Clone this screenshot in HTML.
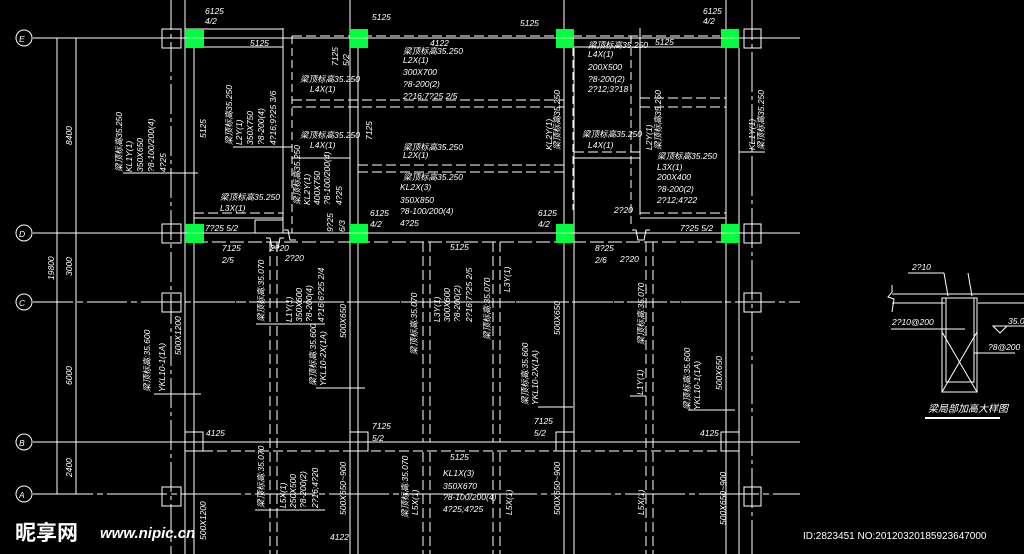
<!DOCTYPE html>
<html><head><meta charset="utf-8"><style>
html,body{margin:0;padding:0;background:#000;width:1024px;height:554px;overflow:hidden}
svg{display:block}
text{font-family:"Liberation Sans","Noto Sans CJK SC",sans-serif;fill:#fff;font-size:8.5px;font-style:italic}
</style></head><body>
<svg width="1024" height="554" viewBox="0 0 1024 554" xmlns="http://www.w3.org/2000/svg">
<g stroke="#fff" stroke-width="1" fill="none">
<circle cx="24" cy="38" r="8"/><circle cx="24" cy="233" r="8"/><circle cx="24" cy="302" r="8"/><circle cx="24" cy="442" r="8"/><circle cx="24" cy="494" r="8"/>
<line x1="33" y1="38" x2="800" y2="38"/>
<line x1="33" y1="233" x2="800" y2="233"/>
<line x1="33" y1="302" x2="800" y2="302" stroke-dasharray="40 4 6 4"/>
<line x1="33" y1="442" x2="800" y2="442"/>
<line x1="33" y1="494" x2="800" y2="494" stroke-dasharray="60 4 6 4"/>
<line x1="57" y1="38" x2="57" y2="494"/><line x1="76" y1="38" x2="76" y2="494"/>
<rect x="162" y="29" width="19" height="19"/><rect x="162" y="224" width="19" height="19"/>
<rect x="162" y="293" width="19" height="19"/><rect x="162" y="487" width="19" height="19"/>
<rect x="744" y="29" width="17" height="19"/><rect x="744" y="224" width="17" height="19"/>
<rect x="744" y="293" width="17" height="19"/><rect x="744" y="487" width="17" height="19"/>
<rect x="185" y="432" width="18" height="19"/><rect x="350" y="432" width="18" height="19"/>
<rect x="556" y="432" width="18" height="19"/><rect x="721" y="432" width="18" height="19"/>
<line x1="171" y1="0" x2="171" y2="554" stroke-dasharray="30 4 4 4"/>
<line x1="185" y1="0" x2="185" y2="554"/><line x1="194" y1="48" x2="194" y2="554"/>
<line x1="350" y1="0" x2="350" y2="554"/><line x1="358" y1="48" x2="358" y2="554"/>
<line x1="564" y1="0" x2="564" y2="554"/><line x1="574" y1="48" x2="574" y2="554"/>
<line x1="726" y1="0" x2="726" y2="554"/><line x1="739" y1="48" x2="739" y2="554"/>
<line x1="752" y1="0" x2="752" y2="554" stroke-dasharray="40 4 4 4"/>
<line x1="283" y1="28" x2="283" y2="233"/><line x1="640" y1="28" x2="640" y2="215"/>
<line x1="292" y1="36" x2="292" y2="233" stroke-dasharray="8 4"/>
<line x1="573" y1="36" x2="573" y2="210" stroke-dasharray="8 4"/>
<line x1="631" y1="36" x2="631" y2="225" stroke-dasharray="8 4"/>
<line x1="185" y1="29" x2="283" y2="29"/><line x1="194" y1="47" x2="283" y2="47"/>
<line x1="292" y1="36" x2="720" y2="36" stroke-dasharray="10 4"/>
<line x1="574" y1="47" x2="726" y2="47"/>
<line x1="292" y1="100" x2="564" y2="100" stroke-dasharray="10 4"/><line x1="292" y1="107" x2="564" y2="107" stroke-dasharray="10 4"/>
<line x1="292" y1="158" x2="350" y2="158"/><line x1="358" y1="165" x2="564" y2="165" stroke-dasharray="10 4"/>
<line x1="358" y1="172" x2="564" y2="172" stroke-dasharray="10 4"/>
<line x1="574" y1="152" x2="640" y2="152" stroke-dasharray="10 4"/><line x1="574" y1="158" x2="640" y2="158"/>
<line x1="640" y1="98" x2="726" y2="98" stroke-dasharray="10 4"/><line x1="640" y1="107" x2="726" y2="107" stroke-dasharray="10 4"/>
<line x1="194" y1="213" x2="283" y2="213" stroke-dasharray="10 4"/><line x1="194" y1="218" x2="283" y2="218"/>
<line x1="640" y1="213" x2="726" y2="213" stroke-dasharray="10 4"/><line x1="640" y1="218" x2="726" y2="218"/>
<line x1="194" y1="242" x2="726" y2="242" stroke-dasharray="14 4"/>
<line x1="255" y1="220" x2="255" y2="233"/><line x1="255" y1="220" x2="283" y2="220"/>
<path d="M266 238 L270 238 L272 248 L278 248 L280 238 L284 238 M284 230 L288 230 L290 240 L296 240"/>
<path d="M632 230 L636 230 L638 240 L644 240 L646 230 L650 230"/>
<g stroke-dasharray="10 4">
<line x1="270" y1="242" x2="270" y2="554"/><line x1="277" y1="242" x2="277" y2="554"/>
<line x1="423" y1="242" x2="423" y2="442"/><line x1="430" y1="242" x2="430" y2="442"/>
<line x1="493" y1="242" x2="493" y2="442"/><line x1="500" y1="242" x2="500" y2="442"/>
<line x1="646" y1="242" x2="646" y2="554"/><line x1="653" y1="242" x2="653" y2="554"/>
<line x1="423" y1="452" x2="423" y2="554"/><line x1="430" y1="452" x2="430" y2="554"/>
<line x1="493" y1="452" x2="493" y2="554"/><line x1="500" y1="452" x2="500" y2="554"/>
<line x1="203" y1="442" x2="721" y2="442"/><line x1="203" y1="451" x2="721" y2="451"/>
<line x1="194" y1="302" x2="726" y2="302"/>
</g>
<line x1="123" y1="173" x2="198" y2="173"/><line x1="233" y1="147" x2="292" y2="147"/>
<line x1="154" y1="394" x2="201" y2="394"/><line x1="256" y1="324" x2="325" y2="324"/>
<line x1="316" y1="388" x2="365" y2="388"/><line x1="255" y1="510" x2="325" y2="510"/>
<line x1="538" y1="407" x2="573" y2="407"/><line x1="630" y1="396" x2="646" y2="396"/>
<line x1="688" y1="410" x2="735" y2="410"/><line x1="739" y1="152" x2="765" y2="152"/>
<line x1="892" y1="294" x2="1024" y2="294"/><line x1="892" y1="303" x2="945" y2="303"/><line x1="978" y1="303" x2="1024" y2="303"/>
<path d="M892 285 L892 292 L888 297 L894 299 L892 312"/>
<rect x="942" y="298" width="35" height="94"/>
<rect x="946" y="298" width="28" height="84"/>
<line x1="942" y1="332" x2="977" y2="392"/><line x1="977" y1="332" x2="942" y2="392"/>
<line x1="891" y1="329" x2="965" y2="329"/><line x1="974" y1="353" x2="1015" y2="353"/>
<line x1="908" y1="273" x2="944" y2="273"/><line x1="944" y1="273" x2="948" y2="296"/><line x1="968" y1="273" x2="972" y2="296"/>
<path d="M993 326 L1007 326 L1000 333 Z"/><line x1="1007" y1="326" x2="1024" y2="326"/>
</g>
<line x1="925" y1="418" x2="1000" y2="418" stroke="#fff" stroke-width="2"/>
<g fill="#00ff3c">
<rect x="185" y="29" width="19" height="19"/><rect x="350" y="29" width="18" height="19"/><rect x="556" y="29" width="18" height="19"/><rect x="721" y="29" width="18" height="19"/>
<rect x="185" y="224" width="19" height="19"/><rect x="350" y="224" width="18" height="19"/><rect x="556" y="224" width="18" height="19"/><rect x="721" y="224" width="18" height="19"/>
</g>
<g stroke="#fff" stroke-width="0.8"><line x1="185" y1="38" x2="740" y2="38"/><line x1="185" y1="233" x2="740" y2="233"/></g>
<g style="font-style:normal;font-size:10px;font-family:'Liberation Serif',serif">
<text x="19" y="42">E</text><text x="19" y="237">D</text><text x="19" y="306">C</text><text x="19" y="446">B</text><text x="19" y="498">A</text>
</g>
<text x="205" y="14">6125</text><text x="205" y="24">4/2</text>
<text x="372" y="20">5125</text><text x="250" y="46">5125</text>
<text x="430" y="46">4122</text><text x="520" y="26">5125</text>
<text x="703" y="14">6125</text><text x="703" y="24">4/2</text><text x="655" y="45">5125</text>
<text x="403" y="54">梁顶标高35.250</text><text x="403" y="63">L2X(1)</text>
<text x="403" y="75">300X700</text><text x="403" y="87">?8-200(2)</text><text x="403" y="99">2?16;7?25 2/5</text>
<text x="588" y="48">梁顶标高35.250</text><text x="588" y="57">L4X(1)</text><text x="588" y="70">200X500</text><text x="588" y="82">?8-200(2)</text><text x="588" y="92">2?12;3?18</text>
<text x="300" y="82">梁顶标高35.250</text><text x="310" y="92">L4X(1)</text>
<text x="300" y="138">梁顶标高35.250</text><text x="310" y="148">L4X(1)</text>
<text x="403" y="150">梁顶标高35.250</text><text x="403" y="158">L2X(1)</text>
<text x="403" y="180">梁顶标高35.250</text><text x="400" y="190">KL2X(3)</text><text x="400" y="203">350X850</text><text x="400" y="214">?8-100/200(4)</text><text x="400" y="226">4?25</text>
<text x="582" y="137">梁顶标高35.250</text><text x="588" y="148">L4X(1)</text>
<text x="657" y="159">梁顶标高35.250</text><text x="657" y="170">L3X(1)</text><text x="657" y="180">200X400</text><text x="657" y="192">?8-200(2)</text><text x="657" y="203">2?12;4?22</text>
<text x="220" y="200">梁顶标高35.250</text><text x="220" y="211">L3X(1)</text>
<text x="205" y="231">7?25 5/2</text><text x="680" y="231">7?25 5/2</text>
<text x="370" y="216">6125</text><text x="370" y="227">4/2</text>
<text x="538" y="216">6125</text><text x="538" y="227">4/2</text>
<text x="614" y="213">2?20</text><text x="270" y="251">2?20</text><text x="285" y="261">2?20</text><text x="620" y="262">2?20</text>
<text x="222" y="251">7125</text><text x="222" y="263">2/5</text>
<text x="595" y="251">8?25</text><text x="595" y="263">2/6</text>
<text x="450" y="250">5125</text>
<text x="206" y="436">4125</text><text x="700" y="436">4125</text>
<text x="372" y="429">7125</text><text x="372" y="441">5/2</text>
<text x="534" y="424">7125</text><text x="534" y="436">5/2</text>
<text x="450" y="460">5125</text>
<text x="443" y="476">KL1X(3)</text><text x="443" y="489">350X670</text><text x="443" y="500">?8-100/200(4)</text><text x="443" y="512">4?25;4?25</text>
<text x="330" y="540">4122</text>
<text x="912" y="270">2?10</text><text x="892" y="325">2?10@200</text><text x="988" y="350">?8@200</text><text x="1008" y="324">35.0</text>
<text x="928" y="412" style="font-size:10px">梁局部加高大样图</text>
<g>
<text transform="translate(72,145) rotate(-90)">8400</text>
<text transform="translate(54,280) rotate(-90)">19800</text>
<text transform="translate(72,276) rotate(-90)">3000</text>
<text transform="translate(72,385) rotate(-90)">6000</text>
<text transform="translate(72,477) rotate(-90)">2400</text>
<text transform="translate(122,172) rotate(-90)">梁顶标高35.250</text>
<text transform="translate(132,172) rotate(-90)">KL1Y(1)</text>
<text transform="translate(143,172) rotate(-90)">350X650</text>
<text transform="translate(154,172) rotate(-90)">?8-100/200(4)</text>
<text transform="translate(166,172) rotate(-90)">4?25</text>
<text transform="translate(206,138) rotate(-90)">5125</text>
<text transform="translate(232,145) rotate(-90)">梁顶标高35.250</text>
<text transform="translate(242,145) rotate(-90)">L2Y(1)</text>
<text transform="translate(253,145) rotate(-90)">350X750</text>
<text transform="translate(264,145) rotate(-90)">?8-200(4)</text>
<text transform="translate(276,145) rotate(-90)">4?16;9?25 3/6</text>
<text transform="translate(300,205) rotate(-90)">梁顶标高35.250</text>
<text transform="translate(310,205) rotate(-90)">KL2Y(1)</text>
<text transform="translate(320,205) rotate(-90)">400X750</text>
<text transform="translate(330,205) rotate(-90)">?8-100/200(4)</text>
<text transform="translate(342,205) rotate(-90)">4?25</text>
<text transform="translate(333,232) rotate(-90)">9?25</text><text transform="translate(345,232) rotate(-90)">6/3</text>
<text transform="translate(338,66) rotate(-90)">7125</text><text transform="translate(349,66) rotate(-90)">5/2</text>
<text transform="translate(372,140) rotate(-90)">7125</text>
<text transform="translate(552,150) rotate(-90)">KL2Y(1)</text><text transform="translate(560,150) rotate(-90)">梁顶标高35.250</text>
<text transform="translate(652,150) rotate(-90)">L2Y(1)</text><text transform="translate(661,150) rotate(-90)">梁顶标高35.250</text>
<text transform="translate(755,150) rotate(-90)">KL1Y(1)</text><text transform="translate(764,150) rotate(-90)">梁顶标高35.250</text>
<text transform="translate(264,322) rotate(-90)">梁顶标高:35.070</text>
<text transform="translate(292,322) rotate(-90)">L1Y(1)</text>
<text transform="translate(302,322) rotate(-90)">350X600</text>
<text transform="translate(312,322) rotate(-90)">?8-200(4)</text>
<text transform="translate(324,322) rotate(-90)">4?16;6?25 2/4</text>
<text transform="translate(181,355) rotate(-90)">500X1200</text>
<text transform="translate(150,392) rotate(-90)">梁顶标高:35.600</text>
<text transform="translate(165,392) rotate(-90)">YKL10-1(1A)</text>
<text transform="translate(346,338) rotate(-90)">500X650</text>
<text transform="translate(316,386) rotate(-90)">梁顶标高:35.600</text>
<text transform="translate(326,386) rotate(-90)">YKL10-2X(1A)</text>
<text transform="translate(417,355) rotate(-90)">梁顶标高:35.070</text>
<text transform="translate(440,322) rotate(-90)">L3Y(1)</text>
<text transform="translate(450,322) rotate(-90)">300X600</text>
<text transform="translate(460,322) rotate(-90)">?8-200(2)</text>
<text transform="translate(472,322) rotate(-90)">2?16;7?25 2/5</text>
<text transform="translate(490,340) rotate(-90)">梁顶标高:35.070</text>
<text transform="translate(510,292) rotate(-90)">L3Y(1)</text>
<text transform="translate(560,335) rotate(-90)">500X650</text>
<text transform="translate(528,405) rotate(-90)">梁顶标高:35.600</text>
<text transform="translate(538,405) rotate(-90)">YKL10-2X(1A)</text>
<text transform="translate(644,345) rotate(-90)">梁顶标高:35.070</text>
<text transform="translate(643,395) rotate(-90)">L1Y(1)</text>
<text transform="translate(690,410) rotate(-90)">梁顶标高:35.600</text>
<text transform="translate(700,410) rotate(-90)">YKL10-1(1A)</text>
<text transform="translate(722,390) rotate(-90)">500X650</text>
<text transform="translate(206,540) rotate(-90)">500X1200</text>
<text transform="translate(264,508) rotate(-90)">梁顶标高:35.070</text>
<text transform="translate(286,508) rotate(-90)">L5X(1)</text>
<text transform="translate(296,508) rotate(-90)">250X500</text>
<text transform="translate(306,508) rotate(-90)">?8-200(2)</text>
<text transform="translate(318,508) rotate(-90)">2?16;4?20</text>
<text transform="translate(346,515) rotate(-90)">500X650~900</text>
<text transform="translate(408,518) rotate(-90)">梁顶标高:35.070</text>
<text transform="translate(418,515) rotate(-90)">L5X(1)</text>
<text transform="translate(512,515) rotate(-90)">L5X(1)</text>
<text transform="translate(560,515) rotate(-90)">500X650~900</text>
<text transform="translate(644,515) rotate(-90)">L5X(1)</text>
<text transform="translate(726,525) rotate(-90)">500X650~900</text>
</g>
<text x="15" y="540" style="font-style:normal;font-weight:bold;font-size:21px">昵享网</text>
<text x="100" y="538" style="font-style:italic;font-weight:bold;font-size:15px">www.nipic.cn</text>
<text x="803" y="539" style="font-style:normal;font-size:10px">ID:2823451 NO:20120320185923647000</text>
</svg>
</body></html>
